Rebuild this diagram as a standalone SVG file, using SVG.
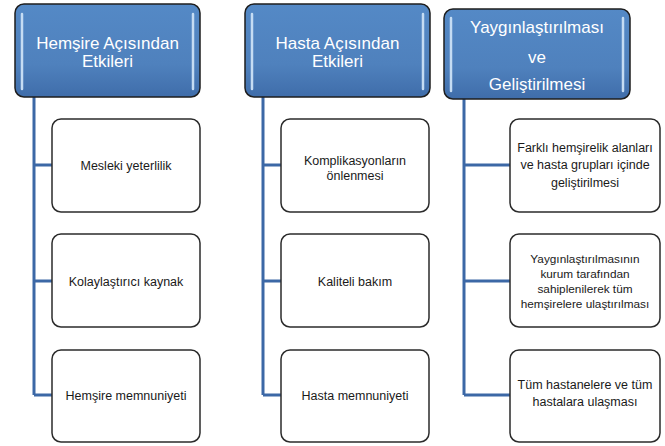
<svg xmlns="http://www.w3.org/2000/svg" width="665" height="446" viewBox="0 0 665 446">
  <defs>
    <linearGradient id="hdrGrad" x1="0" y1="0" x2="0" y2="1">
      <stop offset="0" stop-color="#5489c6"/>
      <stop offset="0.65" stop-color="#4f81bd"/>
      <stop offset="1" stop-color="#3f6daa"/>
    </linearGradient>
  </defs>
  <style>
    .hdr { fill: url(#hdrGrad); stroke: #1e1e1e; stroke-width: 1.5; }
    .bar { stroke: #c5dcf3; stroke-width: 2.5; stroke-linecap: round; fill: none; }
    .box { fill: #ffffff; stroke: #2b2b2b; stroke-width: 1.5; }
    .conn { stroke: #3c68a6; stroke-width: 3; fill: none; }
    .ht { font-family: "Liberation Sans", Arial, sans-serif; font-size: 17px; fill: #ffffff; text-anchor: middle; }
    .bt { font-family: "Liberation Sans", Arial, sans-serif; font-size: 12.5px; fill: #1a1a1a; text-anchor: middle; }
    .bs { font-size: 11.8px; }
  </style>
  <rect width="665" height="446" fill="#ffffff"/>

  <g id="connectors">
    <path class="conn" d="M34,97 V395 M34,165 H52 M34,281 H52 M34,395 H52"/>
    <path class="conn" d="M263,97 V395 M263,165 H281 M263,281 H281 M263,395 H281"/>
    <path class="conn" d="M464,99 V395 M464,165 H510 M464,281 H510 M464,395 H510"/>
  </g>

  <g id="header1">
    <rect class="hdr" x="15" y="4" width="185" height="93" rx="9"/>
    <path class="bar" d="M22,14 V89 M193,14 V89"/>
    <text class="ht" x="107.5" y="49">Hemşire Açısından</text>
    <text class="ht" x="107.5" y="67">Etkileri</text>
  </g>
  <g id="header2">
    <rect class="hdr" x="245" y="4" width="185" height="93" rx="9"/>
    <path class="bar" d="M252,14 V89 M423,14 V89"/>
    <text class="ht" x="337.5" y="49">Hasta Açısından</text>
    <text class="ht" x="337.5" y="67">Etkileri</text>
  </g>
  <g id="header3">
    <rect class="hdr" x="444" y="9" width="186" height="90" rx="9"/>
    <path class="bar" d="M451,18 V91 M623,18 V91"/>
    <text class="ht" x="537" y="33">Yaygınlaştırılması</text>
    <text class="ht" x="537" y="63">ve</text>
    <text class="ht" x="537" y="90">Geliştirilmesi</text>
  </g>

  <g id="node1a">
    <rect class="box" x="52" y="119" width="148" height="93" rx="9"/>
    <text class="bt" x="126" y="169.5">Mesleki yeterlilik</text>
  </g>
  <g id="node1b">
    <rect class="box" x="52" y="234" width="148" height="93" rx="9"/>
    <text class="bt" x="126" y="285.5">Kolaylaştırıcı kaynak</text>
  </g>
  <g id="node1c">
    <rect class="box" x="52" y="350" width="148" height="92" rx="9"/>
    <text class="bt" x="126" y="399.5">Hemşire memnuniyeti</text>
  </g>

  <g id="node2a">
    <rect class="box" x="281" y="119" width="148" height="93" rx="9"/>
    <text class="bt" x="355" y="164.5">Komplikasyonların</text>
    <text class="bt" x="355" y="180">önlenmesi</text>
  </g>
  <g id="node2b">
    <rect class="box" x="281" y="234" width="148" height="93" rx="9"/>
    <text class="bt" x="355" y="285.5">Kaliteli bakım</text>
  </g>
  <g id="node2c">
    <rect class="box" x="281" y="350" width="148" height="92" rx="9"/>
    <text class="bt" x="355" y="399.5">Hasta memnuniyeti</text>
  </g>

  <g id="node3a">
    <rect class="box" x="510" y="119" width="150" height="93" rx="9"/>
    <text class="bt" x="585" y="151.5">Farklı hemşirelik alanları</text>
    <text class="bt" x="585" y="169">ve hasta grupları içinde</text>
    <text class="bt" x="585" y="186.5">geliştirilmesi</text>
  </g>
  <g id="node3b">
    <rect class="box" x="510" y="234" width="150" height="93" rx="9"/>
    <text class="bt bs" x="585" y="263">Yaygınlaştırılmasının</text>
    <text class="bt bs" x="585" y="278">kurum tarafından</text>
    <text class="bt bs" x="585" y="293">sahiplenilerek tüm</text>
    <text class="bt bs" x="585" y="308">hemşirelere ulaştırılması</text>
  </g>
  <g id="node3c">
    <rect class="box" x="510" y="350" width="150" height="92" rx="9"/>
    <text class="bt" x="585" y="389">Tüm hastanelere ve tüm</text>
    <text class="bt" x="585" y="406">hastalara ulaşması</text>
  </g>
</svg>
